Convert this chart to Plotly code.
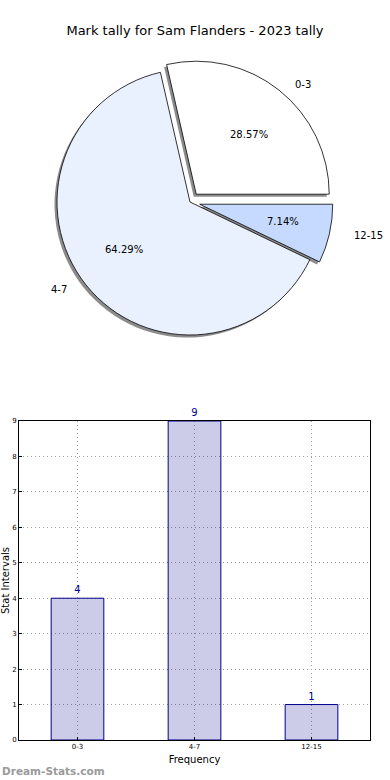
import math
import plotly.graph_objects as go

categories = ["0-3", "4-7", "12-15"]
counts = [4, 9, 1]
pie_colors = ["#FFFFFF", "#EAF1FE", "#C6D9FE"]
pulls = [0.075, 0.0, 0.075]
title_text = "Mark tally for Sam Flanders - 2023 tally"

W, H = 390, 780
FONT = "DejaVu Sans"

def px_dom_x(a, b):
    return [a / W, b / W]

def px_dom_y(top, bottom):
    return [1 - bottom / H, 1 - top / H]

# pie geometry (pixels)
cx, cy = 190, 202
R = 133
half = R * (1 + max(pulls))
sh = 2.5
# text placement radii (matplotlib-like, slightly elliptical)
RX, RY = 141, 128
DIRECTION = "counterclockwise"
ROT = 90 - 360 * counts[0] / sum(counts)

fig = go.Figure()

dom_main = dict(x=px_dom_x(cx - half, cx + half), y=px_dom_y(cy - half, cy + half))
dom_shadow = dict(x=px_dom_x(cx - half - sh, cx + half - sh), y=px_dom_y(cy - half + sh, cy + half + sh))

fig.add_trace(go.Pie(
    labels=categories, values=counts, sort=False, direction=DIRECTION,
    rotation=ROT, pull=pulls, textinfo="none", hoverinfo="skip",
    marker=dict(colors=["rgba(0,0,0,0.45)"] * 3, line=dict(width=0)),
    domain=dom_shadow, showlegend=False,
))
fig.add_trace(go.Pie(
    labels=categories, values=counts, sort=False, direction=DIRECTION,
    rotation=ROT, pull=pulls, textinfo="none",
    marker=dict(colors=pie_colors, line=dict(color="black", width=0.8)),
    domain=dom_main, showlegend=False,
))

# slice labels and percentages, positioned from the data (matplotlib style)
annotations = []
total = sum(counts)
start = 0.0
for lab, v, p in zip(categories, counts, pulls):
    frac = v / total
    mid = math.radians((start + frac / 2) * 360)
    start += frac
    c, s = math.cos(mid), math.sin(mid)
    ox, oy = cx + p * RX * c, cy - p * RY * s
    px_, py_ = ox + 0.6 * RX * c, oy - 0.6 * RY * s
    annotations.append(dict(text=f"{frac * 100:.2f}%", x=px_ / W, y=1 - py_ / H,
                            xref="paper", yref="paper", xanchor="center", yanchor="middle",
                            showarrow=False, font=dict(family=FONT, size=10, color="black")))
    lx, ly = ox + 1.1 * RX * c, oy - 1.1 * RY * s
    annotations.append(dict(text=lab, x=lx / W, y=1 - ly / H,
                            xref="paper", yref="paper",
                            xanchor="left" if c > 0 else "right", yanchor="middle",
                            showarrow=False, font=dict(family=FONT, size=10, color="black")))

fig.add_trace(go.Bar(
    x=categories, y=counts, width=0.45,
    marker=dict(color="rgba(0,0,139,0.2)", line=dict(color="#00008B", width=1)),
    text=[str(c) for c in counts], textposition="outside",
    textfont=dict(family=FONT, size=10, color="#00008B"),
    cliponaxis=False, showlegend=False,
    xaxis="x", yaxis="y",
))

grid = dict(showgrid=True, gridcolor="#A0A0A0", griddash="1px,3px", gridwidth=1)

annotations.append(dict(text="Dream-Stats.com", x=0, y=1 / H, xref="paper", yref="paper",
                        xanchor="left", yanchor="bottom", showarrow=False,
                        font=dict(family=FONT, size=10.5, color="#9A9A9A", weight="bold")))

fig.update_layout(
    width=W, height=H,
    margin=dict(l=0, r=0, t=0, b=0),
    paper_bgcolor="white", plot_bgcolor="white",
    font=dict(family=FONT, color="black"),
    title=dict(text=title_text, x=0.5, xanchor="center", y=1 - 30 / H, yanchor="middle",
               font=dict(family=FONT, size=13, color="black")),
    xaxis=dict(domain=px_dom_x(19, 370), range=[-0.5, 2.5],
               showline=True, mirror=True, linecolor="black", linewidth=1, **grid,
               tickfont=dict(size=7, family=FONT), ticks="inside", ticklen=3, tickcolor="black",
               title=dict(text="Frequency", font=dict(size=10, family=FONT), standoff=5),
               automargin=False, zeroline=False),
    yaxis=dict(domain=px_dom_y(421, 740), range=[0, 9], dtick=1,
               showline=True, mirror=True, linecolor="black", linewidth=1, **grid,
               tickfont=dict(size=7, family=FONT), ticks="inside", ticklen=3, tickcolor="black",
               title=dict(text="Stat Intervals", font=dict(size=10, family=FONT), standoff=1),
               automargin=False, zeroline=False),
    annotations=annotations,
)

fig.write_html("out.html", config={"displayModeBar": False},
               post_script="document.body.style.margin='0';")
